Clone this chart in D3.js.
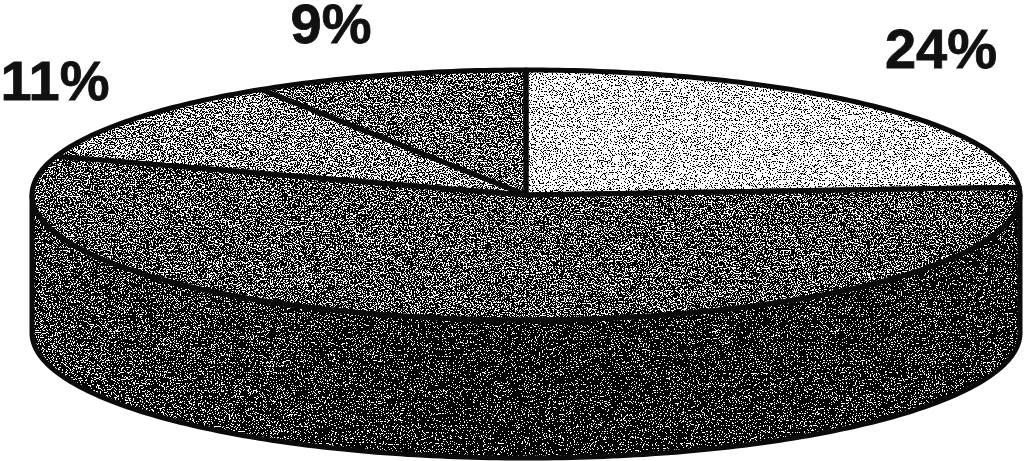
<!DOCTYPE html>
<html>
<head>
<meta charset="utf-8">
<script src="https://d3js.org/d3.v7.min.js"></script>
<style>
  html, body { margin: 0; padding: 0; background: #fff; overflow: hidden; }
  text { font-family: "Liberation Sans", Arial, sans-serif; font-weight: bold; fill: #111; stroke: #111; stroke-width: 0.8px; }
</style>
</head>
<body>
<div id="canvas"></div>
<script>
// Data
var shares = [24, 56, 11, 9];
var labels = ["24%", "", "11%", "9%"];
var topTones = ["#c8c8c8", "#565656", "#868686", "#646464"];

var width = 1024, height = 461;
var cx = 526, cy = 195, rx = 494, ry = 125, depth = 138;

var svg = d3.select("#canvas").append("svg")
  .attr("width", width)
  .attr("height", height);

var defs = svg.append("defs");

// Side wall is lighter at the ends, darkest in the middle
var grad = defs.append("linearGradient")
  .attr("id", "sideShade")
  .attr("gradientUnits", "userSpaceOnUse")
  .attr("x1", cx - rx).attr("x2", cx + rx)
  .attr("y1", 0).attr("y2", 0);
grad.append("stop").attr("offset", "0%").attr("stop-color", "#424242");
grad.append("stop").attr("offset", "45%").attr("stop-color", "#1a1a1a");
grad.append("stop").attr("offset", "100%").attr("stop-color", "#2a2a2a");

// Scanned halftone look: noise added to the fill, then cut to black or white
var filter = defs.append("filter")
  .attr("id", "halftone")
  .attr("filterUnits", "userSpaceOnUse")
  .attr("x", 0).attr("y", 0)
  .attr("width", width).attr("height", height)
  .attr("color-interpolation-filters", "sRGB");
filter.append("feTurbulence")
  .attr("type", "fractalNoise")
  .attr("baseFrequency", "0.71 0.83")
  .attr("numOctaves", 2)
  .attr("seed", 7)
  .attr("result", "raw");
filter.append("feColorMatrix")
  .attr("in", "raw")
  .attr("type", "matrix")
  .attr("values", "1 0 0 0 0  1 0 0 0 0  1 0 0 0 0  0 0 0 0 1")
  .attr("result", "gray");
var stretch = filter.append("feComponentTransfer").attr("in", "gray").attr("result", "noise");
["feFuncR", "feFuncG", "feFuncB"].forEach(function (f) {
  stretch.append(f).attr("type", "linear").attr("slope", 3).attr("intercept", -1);
});
filter.append("feComposite")
  .attr("in", "SourceGraphic").attr("in2", "noise")
  .attr("operator", "arithmetic")
  .attr("k1", 0).attr("k2", 1).attr("k3", 1).attr("k4", -0.5)
  .attr("result", "sum");
var cut = filter.append("feComponentTransfer").attr("in", "sum").attr("result", "bw");
["feFuncR", "feFuncG", "feFuncB"].forEach(function (f) {
  cut.append(f).attr("type", "discrete").attr("tableValues", "0 1");
});
filter.append("feComposite")
  .attr("in", "bw").attr("in2", "SourceAlpha")
  .attr("operator", "in")
  .attr("result", "dots");
filter.append("feGaussianBlur")
  .attr("in", "dots")
  .attr("stdDeviation", 0.6);

var x = d3.scaleLinear().domain([-1, 1]).range([cx - rx, cx + rx]);
var y = d3.scaleLinear().domain([-1, 1]).range([cy - ry, cy + ry]);

var pie = d3.pie().sort(null).value(function (d) { return d; });
var slices = pie(shares);

var line = d3.line()
  .x(function (d) { return d[0]; })
  .y(function (d) { return d[1]; });

// Point on the top ellipse, angle clockwise from 12 o'clock
function rim(a, drop) {
  return [x(Math.sin(a)), y(-Math.cos(a)) + (drop || 0)];
}

function sweep(a0, a1, drop) {
  var n = Math.max(2, Math.ceil((a1 - a0) * 60));
  return d3.range(n + 1).map(function (i) {
    return rim(a0 + (a1 - a0) * i / n, drop);
  });
}

function slicePath(d) {
  return line([[x(0), y(0)]].concat(sweep(d.startAngle, d.endAngle))) + "Z";
}

// Only the part of a slice between 3 and 9 o'clock shows on the wall
function wallPath(d) {
  var a0 = Math.max(d.startAngle, Math.PI / 2);
  var a1 = Math.min(d.endAngle, Math.PI * 1.5);
  if (a1 <= a0) return null;
  return line(sweep(a0, a1).concat(sweep(a0, a1, depth).reverse())) + "Z";
}

var walls = slices.filter(function (d) { return wallPath(d); });

// Filled shapes go through the halftone filter, outlines stay solid
var fills = svg.append("g").attr("filter", "url(#halftone)");

fills.selectAll("path.wall")
  .data(walls)
  .enter().append("path")
  .attr("class", "wall")
  .attr("d", wallPath)
  .attr("fill", "url(#sideShade)");

fills.selectAll("path.slice")
  .data(slices)
  .enter().append("path")
  .attr("class", "slice")
  .attr("d", slicePath)
  .attr("fill", function (d, i) { return topTones[i]; });

var outlines = svg.append("g")
  .attr("fill", "none")
  .attr("stroke", "#0a0a0a")
  .attr("stroke-width", 5)
  .attr("stroke-linejoin", "round");

outlines.selectAll("path.wall")
  .data(walls)
  .enter().append("path")
  .attr("class", "wall")
  .attr("d", wallPath);

outlines.selectAll("path.slice")
  .data(slices)
  .enter().append("path")
  .attr("class", "slice")
  .attr("d", slicePath);

// Labels sit at hand-placed spots, as in the original
var labelSpots = [[941, 68], null, [55, 100], [331, 43]];

svg.append("g").selectAll("text")
  .data(labels)
  .enter().append("text")
  .filter(function (d) { return d !== ""; })
  .text(function (d) { return d; })
  .attr("x", function (d) { return labelSpots[labels.indexOf(d)][0]; })
  .attr("y", function (d) { return labelSpots[labels.indexOf(d)][1]; })
  .attr("text-anchor", "middle")
  .attr("font-size", 56);
</script>
</body>
</html>
